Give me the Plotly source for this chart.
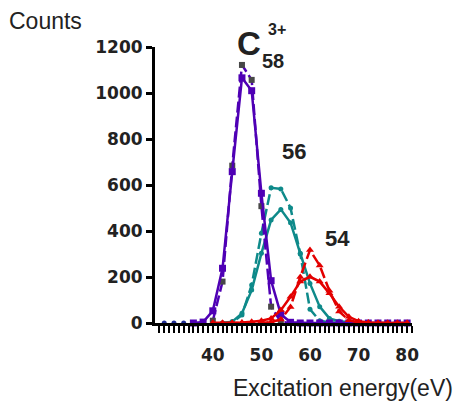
import plotly.graph_objects as go

# ---- data ----
x_c58 = [36, 38, 40, 42, 44, 46, 48, 50, 52, 54, 56, 58, 60, 62, 64, 66, 68, 70, 72, 74, 76, 78, 80]
y_c58_solid = [0, 4, 53, 238, 658, 1066, 1010, 564, 184, 38, 3, 0, 0, 0, 0, 0, 0, 0, 0, 0, 0, 0, 0]
x_c58_d = [40, 42, 44, 46, 48, 50, 52, 54, 56]
y_c58_dashed = [10, 180, 684, 1122, 1057, 508, 71, 5, 0]

x_base = [30, 32, 34]
y_base = [0, 0, 0]

x_c56 = [42, 44, 46, 48, 50, 52, 54, 56, 58, 60, 62, 64, 66, 68, 70]
y_c56_solid = [0, 6, 42, 143, 303, 448, 494, 436, 303, 172, 71, 20, 8, 3, 0]
y_c56_dashed = [0, 3, 35, 165, 390, 588, 583, 500, 300, 60, 10, 3, 0, 0, 0]

x_c54 = [40, 42, 44, 46, 48, 50, 52, 54, 56, 58, 60, 62, 64, 66, 68, 70, 72, 74, 76, 78, 80]
y_c54_solid = [0, 0, 0, 2, 5, 10, 20, 56, 114, 180, 201, 180, 129, 71, 27, 8, 2, 0, 0, 0, 0]
y_c54_dashed = [0, 0, 0, 0, 0, 0, 5, 15, 70, 200, 317, 250, 140, 50, 12, 2, 0, 0, 0, 0, 0]

x_ticks = [40, 50, 60, 70, 80]
y_ticks = [0, 200, 400, 600, 800, 1000, 1200]

PURPLE = "#4f00b5"
GREY = "#474747"
TEAL = "#0e8a8a"
RED = "#e30000"
NAVY = "#1c2a90"
DASH = "11px,4px"

fig = go.Figure()
fig.add_trace(go.Scatter(x=x_base, y=y_base, mode="markers",
                         marker=dict(symbol="circle", size=5, color=NAVY), cliponaxis=False))
fig.add_trace(go.Scatter(x=x_c56, y=y_c56_dashed, mode="lines+markers",
                         line=dict(color=TEAL, width=2.5, dash=DASH),
                         marker=dict(symbol="circle", size=5, color=TEAL), cliponaxis=False))
fig.add_trace(go.Scatter(x=x_c56, y=y_c56_solid, mode="lines+markers",
                         line=dict(color=TEAL, width=2.5),
                         marker=dict(symbol="circle", size=5, color=TEAL), cliponaxis=False))
fig.add_trace(go.Scatter(x=x_c58_d, y=y_c58_dashed, mode="lines+markers",
                         line=dict(color=PURPLE, width=2.5, dash=DASH),
                         marker=dict(symbol="square", size=6, color=GREY), cliponaxis=False))
fig.add_trace(go.Scatter(x=x_c58, y=y_c58_solid, mode="lines+markers",
                         line=dict(color=PURPLE, width=2.5),
                         marker=dict(symbol="square", size=7, color=PURPLE), cliponaxis=False))
fig.add_trace(go.Scatter(x=x_c54, y=y_c54_dashed, mode="lines+markers",
                         line=dict(color=RED, width=2.5, dash=DASH),
                         marker=dict(symbol="triangle-up", size=7, color=RED), cliponaxis=False))
fig.add_trace(go.Scatter(x=x_c54, y=y_c54_solid, mode="lines+markers",
                         line=dict(color=RED, width=2.5),
                         marker=dict(symbol="triangle-up", size=7, color=RED), cliponaxis=False))

L, R, T, B = 155, 412, 47, 323
W, H = R - L, B - T


def px(x):
    return (x - L) / W


def py(y):
    return (B - y) / H


tickfont = dict(family="DejaVu Sans", size=17, color="#222222", weight="bold")

fig.update_layout(
    width=456, height=403,
    margin=dict(l=L, r=456 - R, t=T, b=403 - B),
    paper_bgcolor="white", plot_bgcolor="white",
    showlegend=False,
    xaxis=dict(range=[28.1, 81], showgrid=False, zeroline=False,
               showline=True, linecolor="black", linewidth=3,
               tickmode="array", tickvals=x_ticks, ticks="outside",
               ticklen=7, tickwidth=2, tickcolor="black",
               tickfont=tickfont, ticklabelstandoff=8,
               minor=dict(dtick=1, tick0=0, ticks="outside", ticklen=7,
                          tickwidth=2, tickcolor="black")),
    yaxis=dict(range=[0, 1200], showgrid=False, zeroline=False,
               showline=True, linecolor="black", linewidth=3,
               tickmode="array", tickvals=y_ticks, ticks="outside",
               ticklen=6, tickwidth=3, tickcolor="black",
               tickfont=tickfont),
    annotations=[
        dict(text="Counts", xref="paper", yref="paper", x=px(7), y=py(21),
             xanchor="left", yanchor="middle", showarrow=False,
             font=dict(family="Liberation Sans", size=23, color="#222222")),
        dict(text="Excitation energy(eV)", xref="paper", yref="paper", x=px(455), y=py(388),
             xanchor="right", yanchor="middle", showarrow=False,
             font=dict(family="Liberation Sans", size=23, color="#222222")),
        dict(text="C", xref="paper", yref="paper", x=px(249), y=py(44),
             xanchor="center", yanchor="middle", showarrow=False,
             font=dict(family="Liberation Sans", size=33, color="#222222", weight="bold")),
        dict(text="58", xref="paper", yref="paper", x=px(273), y=py(61),
             xanchor="center", yanchor="middle", showarrow=False,
             font=dict(family="Liberation Sans", size=20, color="#222222", weight="bold")),
        dict(text="3+", xref="paper", yref="paper", x=px(277), y=py(30),
             xanchor="center", yanchor="middle", showarrow=False,
             font=dict(family="Liberation Sans", size=16, color="#222222", weight="bold")),
        dict(text="56", xref="paper", yref="paper", x=px(294), y=py(151),
             xanchor="center", yanchor="middle", showarrow=False,
             font=dict(family="Liberation Sans", size=22, color="#222222", weight="bold")),
        dict(text="54", xref="paper", yref="paper", x=px(337), y=py(238),
             xanchor="center", yanchor="middle", showarrow=False,
             font=dict(family="Liberation Sans", size=22, color="#222222", weight="bold")),
    ],
)

fig.write_html("out.html")
